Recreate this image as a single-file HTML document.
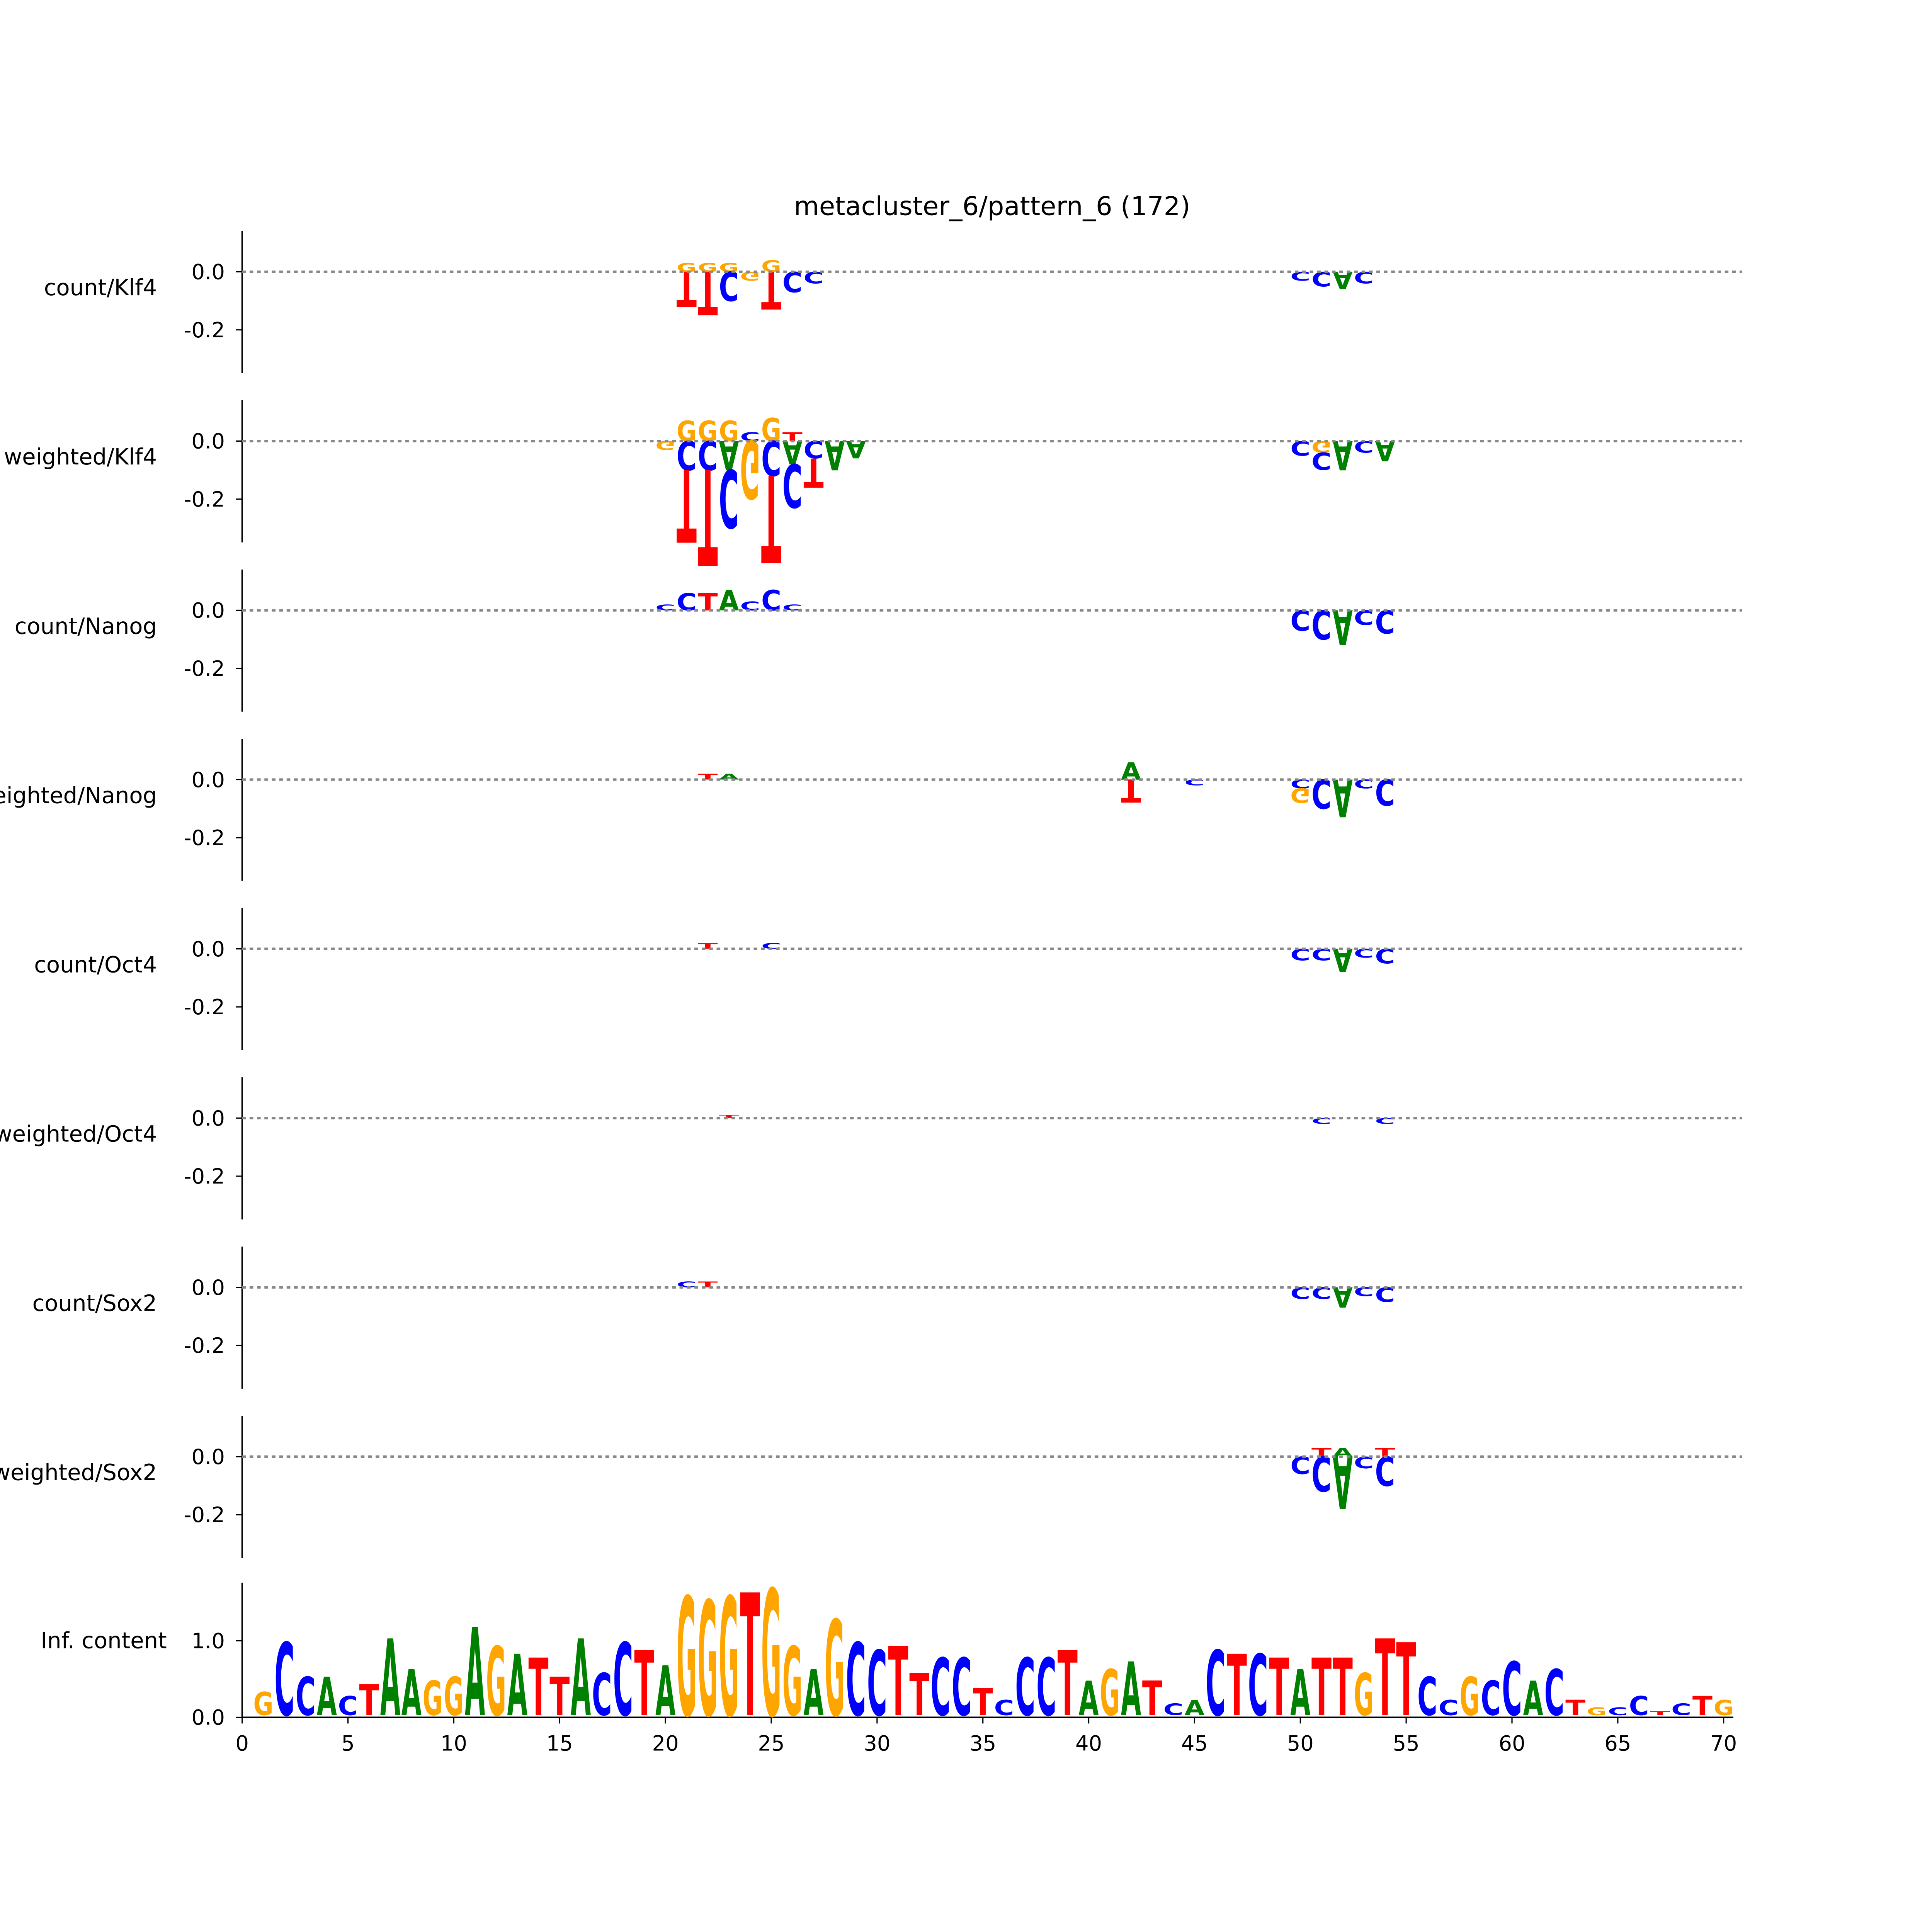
<!DOCTYPE html>
<html style="margin:0;padding:0;"><head><meta charset="utf-8">
<style>
html,body{margin:0;padding:0;background:#fff;overflow:hidden;}
svg{display:block;}
text{font-family:"DejaVu Sans","Liberation Sans",sans-serif;}
</style></head>
<body>
<svg id="chart" width="6000" height="6000" viewBox="0 0 1550 1550" overflow="hidden" xmlns="http://www.w3.org/2000/svg">
<rect width="1550" height="1550" fill="#fff"/>
<g transform="scale(0.826)">
<text x="803" y="174" font-size="21" text-anchor="middle">metacluster_6/pattern_6 (172)</text>
<g id="panels"></g>
</g>
</svg>
<script>
const panelLabels = ["count/Klf4","weighted/Klf4","count/Nanog","weighted/Nanog","count/Oct4","weighted/Oct4","count/Sox2","weighted/Sox2"];
const attrTicks = [0.0, -0.2];
const attrTickLabels = ["0.0","-0.2"];
const klf4CountPos = [21,21,22,22,23,23,24,25,25,26,27,50,51,52,53];
const klf4CountLet = ["G","T","G","T","G","C","G","G","T","C","C","C","C","A","C"];
const klf4CountVal = [0.03,-0.12,0.03,-0.15,0.03,-0.1,-0.03,0.04,-0.13,-0.07,-0.04,-0.03,-0.05,-0.06,-0.04];
const klf4WPos = [20,21,21,21,22,22,22,23,23,23,24,24,25,25,25,26,26,26,27,27,28,29,50,51,51,52,53,54];
const klf4WLet = ["G","G","C","T","G","C","T","G","A","C","C","G","G","C","T","T","A","C","C","T","A","A","C","G","C","A","C","A"];
const klf4WVal = [-0.03,0.07,-0.1,-0.25,0.07,-0.1,-0.33,0.07,-0.1,-0.2,0.03,-0.2,0.08,-0.12,-0.3,0.03,-0.08,-0.15,-0.06,-0.1,-0.1,-0.06,-0.05,-0.04,-0.06,-0.1,-0.04,-0.07];
const nanogCPos = [20,21,22,23,24,25,26,50,51,52,53,54];
const nanogCLet = ["C","C","T","A","C","C","C","C","C","A","C","C"];
const nanogCVal = [0.02,0.06,0.06,0.07,0.03,0.07,0.02,-0.07,-0.1,-0.12,-0.05,-0.08];
const nanogWPos = [22,23,42,42,45,50,50,51,52,53,54];
const nanogWLet = ["T","A","A","T","C","C","G","C","A","C","C"];
const nanogWVal = [0.02,0.02,0.06,-0.08,-0.02,-0.03,-0.05,-0.1,-0.13,-0.03,-0.09];
const oct4CPos = [22,25,50,51,52,53,54];
const oct4CLet = ["T","C","C","C","A","C","C"];
const oct4CVal = [0.02,0.02,-0.04,-0.04,-0.08,-0.03,-0.05];
const oct4WPos = [23,51,54];
const oct4WLet = ["T","C","C"];
const oct4WVal = [0.01,-0.02,-0.02];
const sox2CPos = [21,22,50,51,52,53,54];
const sox2CLet = ["C","T","C","C","A","C","C"];
const sox2CVal = [0.02,0.02,-0.04,-0.04,-0.07,-0.03,-0.05];
const sox2WPos = [50,51,51,52,52,53,54,54];
const sox2WLet = ["C","T","C","A","A","C","T","C"];
const sox2WVal = [-0.06,0.03,-0.12,0.03,-0.18,-0.04,0.03,-0.1];
const icLetters = ["G","C","C","A","C","T","A","A","G","G","A","G","A","T","T","A","C","C","T","A","G","G","G","T","G","G","A","G","C","C","T","T","C","C","T","C","C","C","T","A","G","A","T","C","A","C","T","C","T","A","T","T","G","T","T","C","C","G","C","C","A","C","T","G","C","C","T","C","T","G"];
const icValues = [0.3,0.95,0.5,0.5,0.25,0.4,1.0,0.6,0.45,0.5,1.15,0.9,0.8,0.75,0.5,1.0,0.55,0.95,0.85,0.65,1.55,1.5,1.55,1.6,1.65,0.9,0.6,1.25,0.95,0.85,0.9,0.55,0.75,0.75,0.35,0.2,0.75,0.75,0.85,0.45,0.6,0.7,0.45,0.15,0.2,0.85,0.8,0.8,0.75,0.6,0.75,0.75,0.55,1.0,0.95,0.5,0.2,0.5,0.45,0.7,0.45,0.6,0.2,0.1,0.1,0.25,0.05,0.15,0.25,0.2];
const icTicks = [0.0,1.0];
const icTickLabels = ["0.0","1.0"];
const xTicks = [0,5,10,15,20,25,30,35,40,45,50,55,60,65,70];

const panelData = [
 [klf4CountPos,klf4CountLet,klf4CountVal],[klf4WPos,klf4WLet,klf4WVal],
 [nanogCPos,nanogCLet,nanogCVal],[nanogWPos,nanogWLet,nanogWVal],
 [oct4CPos,oct4CLet,oct4CVal],[oct4WPos,oct4WLet,oct4WVal],
 [sox2CPos,sox2CLet,sox2CVal],[sox2WPos,sox2WLet,sox2WVal]];

const NS="http://www.w3.org/2000/svg";
const colors={A:"#008000",C:"#0000ff",G:"#ffa500",T:"#ff0000"};
const X0=196, PXU=17.13;
const xs = v => X0 + v*PXU;
const g=document.getElementById("panels");
function mk(tag,attrs,parent){const e=document.createElementNS(NS,tag);for(const k in attrs)e.setAttribute(k,attrs[k]);(parent||g).appendChild(e);return e;}
function letter(parent,ch,cx,yBase,h,flip){
  if(Math.abs(h)<0.3) return;
  const fs=10, capH=7.29;
  const t=mk("text",{"font-size":fs,"font-weight":"bold",fill:colors[ch],"text-anchor":"middle",
    textLength:"10", lengthAdjust:"spacingAndGlyphs", "font-family":"Liberation Sans, sans-serif"},parent);
  t.textContent=ch;
  const sx=PXU*0.95/10, sy=h/capH;
  t.setAttribute("x",0);t.setAttribute("y",0);
  t.setAttribute("transform",`translate(${cx},${yBase}) scale(${sx},${flip?-sy:sy})`);
  
  
}
for(let p=0;p<8;p++){
  const y0=220+137*p, scale=47/0.2;
  const ys=v=>y0 - v*scale;
  const pg=mk("g",{});
  
  
  const sp=mk("line",{x1:X0,x2:X0,y1:y0-33,y2:y0+82,stroke:"#000","stroke-width":1.2},pg);
  
  
  attrTicks.forEach((t,i)=>{
    mk("line",{x1:X0-5,x2:X0,y1:ys(t),y2:ys(t),stroke:"#000","stroke-width":1},pg);
    const tl=mk("text",{x:X0-14,y:ys(t)+6,"font-size":17,"text-anchor":"end"},pg);
    tl.textContent=attrTickLabels[i];
    
    
  });
  const lab=mk("text",{x:127,y:y0+19,"font-size":18,"text-anchor":"end"},pg);
  lab.textContent=panelLabels[p];
  
  
  const [pos,let_,val]=panelData[p];
  const stackP={},stackN={};
  pos.forEach((ps,i)=>{
    const v=val[i];
    if(v>=0){const b=stackP[ps]||0; letter(pg,let_[i],xs(ps),ys(b),v*scale,false); stackP[ps]=b+v;}
    else{const b=stackN[ps]||0; letter(pg,let_[i],xs(ps),ys(b),-v*scale,true); stackN[ps]=b+v;}
  });
  const zl=mk("line",{x1:X0,x2:1410,y1:y0,y2:y0,stroke:"#888","stroke-width":2,"stroke-dasharray":"3,3"},pg);
  
  
}
{
  const y0=1390, scale=62;
  const ys=v=>y0-v*scale;
  const pg=mk("g",{});
  
  
  mk("line",{x1:X0,x2:X0,y1:1281,y2:y0,stroke:"#000","stroke-width":1.2},pg);
  mk("line",{x1:X0,x2:1403,y1:y0,y2:y0,stroke:"#000","stroke-width":1.2},pg);
  icTicks.forEach((t,i)=>{
    mk("line",{x1:X0-5,x2:X0,y1:ys(t),y2:ys(t),stroke:"#000","stroke-width":1},pg);
    const tl=mk("text",{x:X0-14,y:ys(t)+6,"font-size":17,"text-anchor":"end"},pg);
    tl.textContent=icTickLabels[i];
    
    
  });
  const lab=mk("text",{x:135,y:1334,"font-size":18,"text-anchor":"end"},pg);
  lab.textContent="Inf. content";
  
  
  icValues.forEach((v,i)=>{ letter(pg,icLetters[i],xs(i+1),ys(0.03),v*scale,false); });
  xTicks.forEach(t=>{
    mk("line",{x1:xs(t),x2:xs(t),y1:y0,y2:y0+5,stroke:"#000","stroke-width":1},pg);
    const tl=mk("text",{x:xs(t),y:y0+27,"font-size":17,"text-anchor":"middle"},pg);
    tl.textContent=String(t);
    
    
  });
}
</script>
</body></html>
